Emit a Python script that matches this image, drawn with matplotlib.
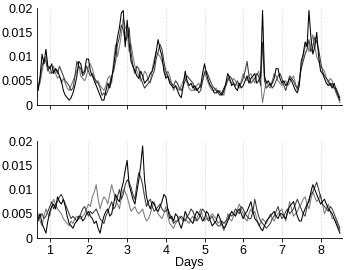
import numpy as np
import matplotlib.pyplot as plt

plt.rcParams['font.family'] = ['Liberation Sans', 'DejaVu Sans']

# readings every 0.05 day from day 0.7 to day 8.5, in units of 1e-3
top_a = [3.0, 6.0, 10.5, 8.5, 11.5, 8.0, 7.5, 8.5, 6.5, 7.5,
         7.0, 6.0, 5.0, 3.0, 2.0, 1.5, 1.0, 1.5, 2.5, 4.0,
         6.0, 9.0, 8.5, 6.5, 7.0, 9.5, 9.5, 7.0, 6.0, 5.0,
         4.0, 3.0, 2.0, 1.0, 1.0, 3.0, 4.5, 3.5, 5.5, 8.0,
         11.0, 14.0, 16.0, 19.0, 19.5, 12.0, 17.5, 13.0, 9.0, 8.0,
         7.0, 6.0, 5.5, 7.0, 6.0, 4.5, 5.0, 5.5, 6.5, 7.0,
         8.5, 11.0, 13.5, 11.5, 10.0, 7.0, 5.5, 6.0, 4.5, 4.0,
         3.5, 4.0, 3.0, 2.0, 1.5, 4.0, 7.0, 5.0, 4.0, 4.5,
         3.5, 4.0, 3.0, 3.5, 4.0, 6.5, 8.5, 6.5, 5.0, 4.0,
         3.5, 2.5, 2.5, 3.0, 2.5, 2.0, 3.0, 4.5, 6.5, 5.5,
         4.0, 4.5, 3.5, 3.0, 4.5, 3.5, 4.0, 5.0, 6.0, 4.5,
         5.5, 6.0, 6.5, 4.5, 5.0, 6.0, 19.5, 6.0, 4.5, 5.0,
         4.0, 4.5, 5.5, 7.5, 7.5, 5.5, 4.5, 5.0, 4.0, 4.5,
         5.5, 5.0, 4.0, 3.0, 2.5, 4.0, 9.0, 10.5, 13.0, 12.0,
         19.5, 14.0, 10.5, 12.0, 15.0, 10.0, 7.0, 6.5, 5.5, 4.5,
         4.0, 4.5, 3.5, 4.5, 3.0, 2.0, 1.0]
top_b = [3.5, 5.5, 8.0, 9.5, 9.0, 7.0, 8.0, 6.5, 7.0, 7.5,
         6.5, 8.0, 7.0, 6.0, 5.0, 4.5, 4.0, 3.0, 3.5, 6.0,
         9.0, 8.0, 7.5, 6.0, 6.5, 8.0, 7.0, 6.0, 6.5, 5.5,
         5.0, 4.5, 3.5, 2.0, 2.5, 2.0, 3.0, 4.5, 6.0, 7.0,
         9.0, 12.5, 14.0, 16.5, 15.5, 13.0, 14.0, 16.0, 11.0, 8.0,
         6.5, 8.0, 7.5, 5.5, 4.5, 3.5, 4.0, 4.5, 5.0, 6.0,
         7.0, 9.5, 11.0, 12.5, 11.5, 9.0, 7.0, 6.0, 5.0, 4.5,
         4.0, 5.0, 4.5, 3.5, 3.0, 4.0, 5.0, 6.0, 5.5, 5.0,
         4.5, 3.0, 3.5, 2.5, 3.0, 5.0, 6.5, 7.0, 6.0, 5.0,
         4.0, 3.5, 3.0, 2.5, 2.0, 2.5, 3.5, 4.0, 5.0, 6.0,
         5.5, 4.5, 4.0, 5.0, 4.0, 4.5, 5.5, 7.0, 9.0, 6.0,
         4.5, 5.0, 5.5, 6.5, 6.0, 4.0, 13.0, 5.0, 3.5, 4.0,
         4.5, 3.5, 4.0, 5.0, 6.0, 6.5, 5.5, 4.0, 3.0, 4.5,
         6.0, 5.5, 5.0, 4.0, 3.5, 5.0, 7.5, 9.0, 10.5, 11.5,
         13.5, 11.0, 12.0, 14.0, 13.0, 11.5, 9.0, 7.0, 6.0, 5.5,
         5.0, 4.0, 4.5, 3.5, 3.5, 2.5, 1.5]
top_c = [4.0, 4.5, 7.0, 9.0, 10.0, 7.5, 6.5, 7.0, 8.0, 6.5,
         5.5, 6.0, 4.5, 5.5, 4.5, 3.5, 3.0, 4.0, 5.0, 6.0,
         7.0, 8.0, 6.0, 5.5, 5.0, 6.0, 8.0, 8.5, 7.5, 6.0,
         4.5, 5.0, 4.0, 3.5, 3.0, 4.0, 5.5, 6.0, 4.5, 9.0,
         12.5, 10.0, 12.0, 14.5, 18.0, 16.0, 15.5, 11.0, 12.5, 10.0,
         8.0, 7.0, 6.0, 5.0, 5.5, 7.0, 6.5, 5.0, 4.5, 7.5,
         9.5, 11.0, 10.5, 10.0, 9.0, 8.0, 6.0, 7.0, 6.0, 4.5,
         3.0, 4.0, 3.5, 3.0, 4.0, 5.0, 6.0, 4.5, 3.5, 3.0,
         3.0, 3.5, 4.0, 4.5, 3.5, 5.0, 7.0, 5.5, 4.5, 3.5,
         3.0, 3.0, 3.5, 2.5, 3.0, 2.5, 2.0, 4.0, 5.5, 5.0,
         4.5, 5.5, 5.0, 4.0, 3.5, 5.0, 6.5, 5.5, 5.0, 6.0,
         6.5, 5.5, 4.5, 6.0, 7.0, 5.0, 0.5, 3.0, 5.0, 4.0,
         3.5, 5.0, 6.5, 6.0, 5.0, 4.5, 4.0, 4.5, 5.0, 4.0,
         4.5, 5.5, 6.0, 4.5, 3.0, 5.0, 8.0, 10.0, 12.0, 13.0,
         11.0, 12.5, 14.5, 12.0, 10.0, 9.0, 8.0, 7.5, 7.0, 5.5,
         4.5, 5.5, 5.0, 3.5, 2.5, 1.5, 0.5]

bot_a = [4.0, 5.0, 3.0, 2.0, 1.0, 3.5, 5.5, 6.5, 7.0, 6.0,
         8.5, 7.5, 7.0, 8.0, 6.5, 4.5, 3.0, 2.5, 2.0, 3.0,
         3.5, 4.5, 4.5, 3.5, 4.0, 5.0, 5.5, 4.5, 4.0, 3.0,
         3.5, 2.0, 1.0, 3.0, 4.5, 5.5, 6.0, 4.5, 5.0, 7.0,
         9.0, 8.0, 7.5, 10.0, 11.5, 14.0, 16.0, 11.0, 9.5, 8.0,
         7.0, 9.5, 12.0, 15.0, 19.0, 12.0, 8.5, 7.0, 6.0, 7.5,
         7.0, 6.0, 5.5, 6.5, 7.5, 9.0, 8.5, 6.0, 4.0, 4.5,
         3.5, 5.0, 4.5, 3.0, 2.0, 3.5, 5.5, 4.5, 4.0, 3.5,
         3.0, 4.5, 5.5, 5.0, 4.5, 3.5, 4.0, 5.5, 5.0, 3.5,
         2.5, 3.0, 3.5, 5.0, 4.0, 3.0, 2.0, 2.5, 3.5, 4.5,
         5.5, 5.0, 4.5, 5.5, 6.0, 5.0, 4.0, 5.0, 5.5, 6.5,
         7.5, 5.5, 4.0, 3.5, 3.0, 2.0, 1.5, 2.5, 3.5, 4.0,
         4.5, 5.0, 5.5, 4.5, 4.0, 5.0, 5.0, 4.5, 4.0, 5.5,
         6.5, 7.0, 7.5, 6.0, 4.5, 3.5, 3.5, 5.0, 6.0, 7.0,
         7.5, 9.5, 11.0, 10.0, 9.0, 8.0, 7.0, 7.5, 8.0, 7.0,
         6.0, 5.5, 5.0, 4.0, 3.0, 2.0, 1.0]
bot_b = [3.5, 4.5, 5.0, 4.0, 4.5, 5.5, 6.5, 7.5, 6.0, 7.0,
         7.5, 8.5, 9.0, 8.0, 7.0, 6.0, 5.0, 4.0, 4.5, 4.0,
         3.5, 4.0, 5.0, 6.0, 6.5, 5.5, 4.5, 5.5, 5.0, 5.5,
         6.0, 5.0, 4.0, 3.5, 3.0, 4.5, 5.5, 6.5, 7.5, 6.0,
         6.5, 8.5, 10.0, 8.0, 9.0, 11.0, 12.0, 11.5, 10.5, 9.0,
         8.0, 11.0, 13.5, 12.5, 11.0, 8.5, 6.5, 7.5, 8.0, 6.5,
         5.5, 6.0, 6.5, 7.0, 6.0, 5.5, 5.5, 6.0, 5.0, 4.0,
         3.0, 3.5, 3.5, 4.0, 4.5, 4.0, 3.5, 4.5, 5.0, 6.0,
         5.5, 4.5, 3.5, 4.0, 5.0, 6.0, 5.5, 4.5, 3.5, 4.0,
         4.5, 3.5, 3.0, 2.5, 2.5, 3.5, 3.0, 3.5, 4.0, 5.0,
         4.5, 5.0, 6.0, 5.5, 5.0, 6.5, 6.0, 5.0, 4.5, 4.0,
         4.0, 5.5, 8.0, 6.0, 4.5, 3.5, 3.0, 2.5, 2.0, 2.5,
         3.0, 4.0, 4.5, 5.5, 6.5, 5.0, 4.0, 4.5, 5.5, 6.0,
         5.0, 5.5, 6.0, 7.0, 8.0, 7.0, 6.0, 5.0, 4.5, 6.5,
         8.0, 9.0, 9.5, 10.5, 11.5, 10.0, 8.5, 7.0, 6.5, 6.0,
         5.5, 6.5, 6.0, 5.0, 4.0, 3.0, 2.0]
bot_c = [5.0, 3.5, 2.5, 4.5, 6.0, 5.0, 4.5, 6.5, 8.0, 7.0,
         6.0, 5.5, 5.0, 4.0, 3.5, 3.0, 2.5, 3.5, 3.0, 4.0,
         4.5, 4.0, 4.0, 4.5, 5.0, 6.0, 7.0, 6.5, 8.5, 9.5,
         11.0, 8.0, 6.0, 7.5, 8.5, 8.0, 7.0, 9.0, 11.0, 9.5,
         8.0, 7.0, 6.0, 8.5, 10.0, 9.5, 8.5, 7.0, 5.5, 6.0,
         6.5, 5.5, 5.0, 5.5, 6.0, 4.5, 3.5, 4.0, 5.0, 6.5,
         7.5, 6.0, 5.0, 4.5, 4.0, 5.0, 6.5, 4.5, 3.0, 2.5,
         2.0, 3.0, 3.5, 4.5, 4.0, 3.5, 4.0, 3.5, 3.0, 4.0,
         4.5, 3.5, 4.0, 5.0, 6.0, 4.5, 3.5, 4.0, 4.0, 4.5,
         5.0, 4.5, 4.0, 3.0, 3.5, 2.5, 1.5, 3.0, 5.0, 4.0,
         3.5, 4.5, 5.0, 6.0, 7.0, 6.0, 5.0, 4.0, 3.5, 5.0,
         6.0, 5.0, 5.5, 4.0, 2.5, 3.0, 4.0, 3.5, 3.0, 4.0,
         5.0, 4.0, 3.5, 4.5, 5.0, 5.5, 6.0, 4.5, 3.5, 5.5,
         7.5, 6.0, 4.5, 5.0, 5.5, 6.5, 7.0, 8.0, 8.5, 7.0,
         6.0, 8.0, 9.5, 8.5, 7.5, 8.0, 9.0, 7.0, 5.0, 6.0,
         7.0, 5.5, 4.0, 4.0, 3.5, 2.5, 1.5]

panels = [(top_a, top_b, top_c), (bot_a, bot_b, bot_c)]
colors = ['#000000', '#3a3a3a', '#7a7a7a']
yticks = [0, 0.005, 0.01, 0.015, 0.02]
ytick_labels = ['0', '0.005', '0.01', '0.015', '0.02']
day_ticks = [1, 2, 3, 4, 5, 6, 7, 8]

fig = plt.figure(figsize=(3.46, 2.70), dpi=100)
ax_top = fig.add_axes([0.107, 0.611, 0.881, 0.359])
ax_bot = fig.add_axes([0.107, 0.1185, 0.881, 0.359])

for ax, series in zip([ax_top, ax_bot], panels):
    for vals, c in zip(series[::-1], colors[::-1]):
        days = np.linspace(0.7, 8.5, len(vals))
        ax.plot(days, np.array(vals) / 1000.0, color=c, lw=0.75)
    ax.set_xlim(0.67, 8.55)
    ax.set_ylim(0, 0.02)
    ax.set_yticks(yticks)
    ax.set_yticklabels(ytick_labels)
    ax.set_xticks(day_ticks)
    ax.grid(axis='x', color='#d0d0d0', linestyle=':', lw=0.7)
    for s in ['top', 'right']:
        ax.spines[s].set_visible(False)
    ax.spines['left'].set_linewidth(0.6)
    ax.spines['bottom'].set_linewidth(0.6)
    ax.tick_params(axis='y', length=0, pad=3, labelsize=9)
    ax.tick_params(axis='x', length=3, width=0.6, pad=2, labelsize=9)

ax_top.set_xticklabels([])
ax_bot.set_xlabel('Days', fontsize=9, labelpad=0)

plt.savefig('out.png', dpi=100)
